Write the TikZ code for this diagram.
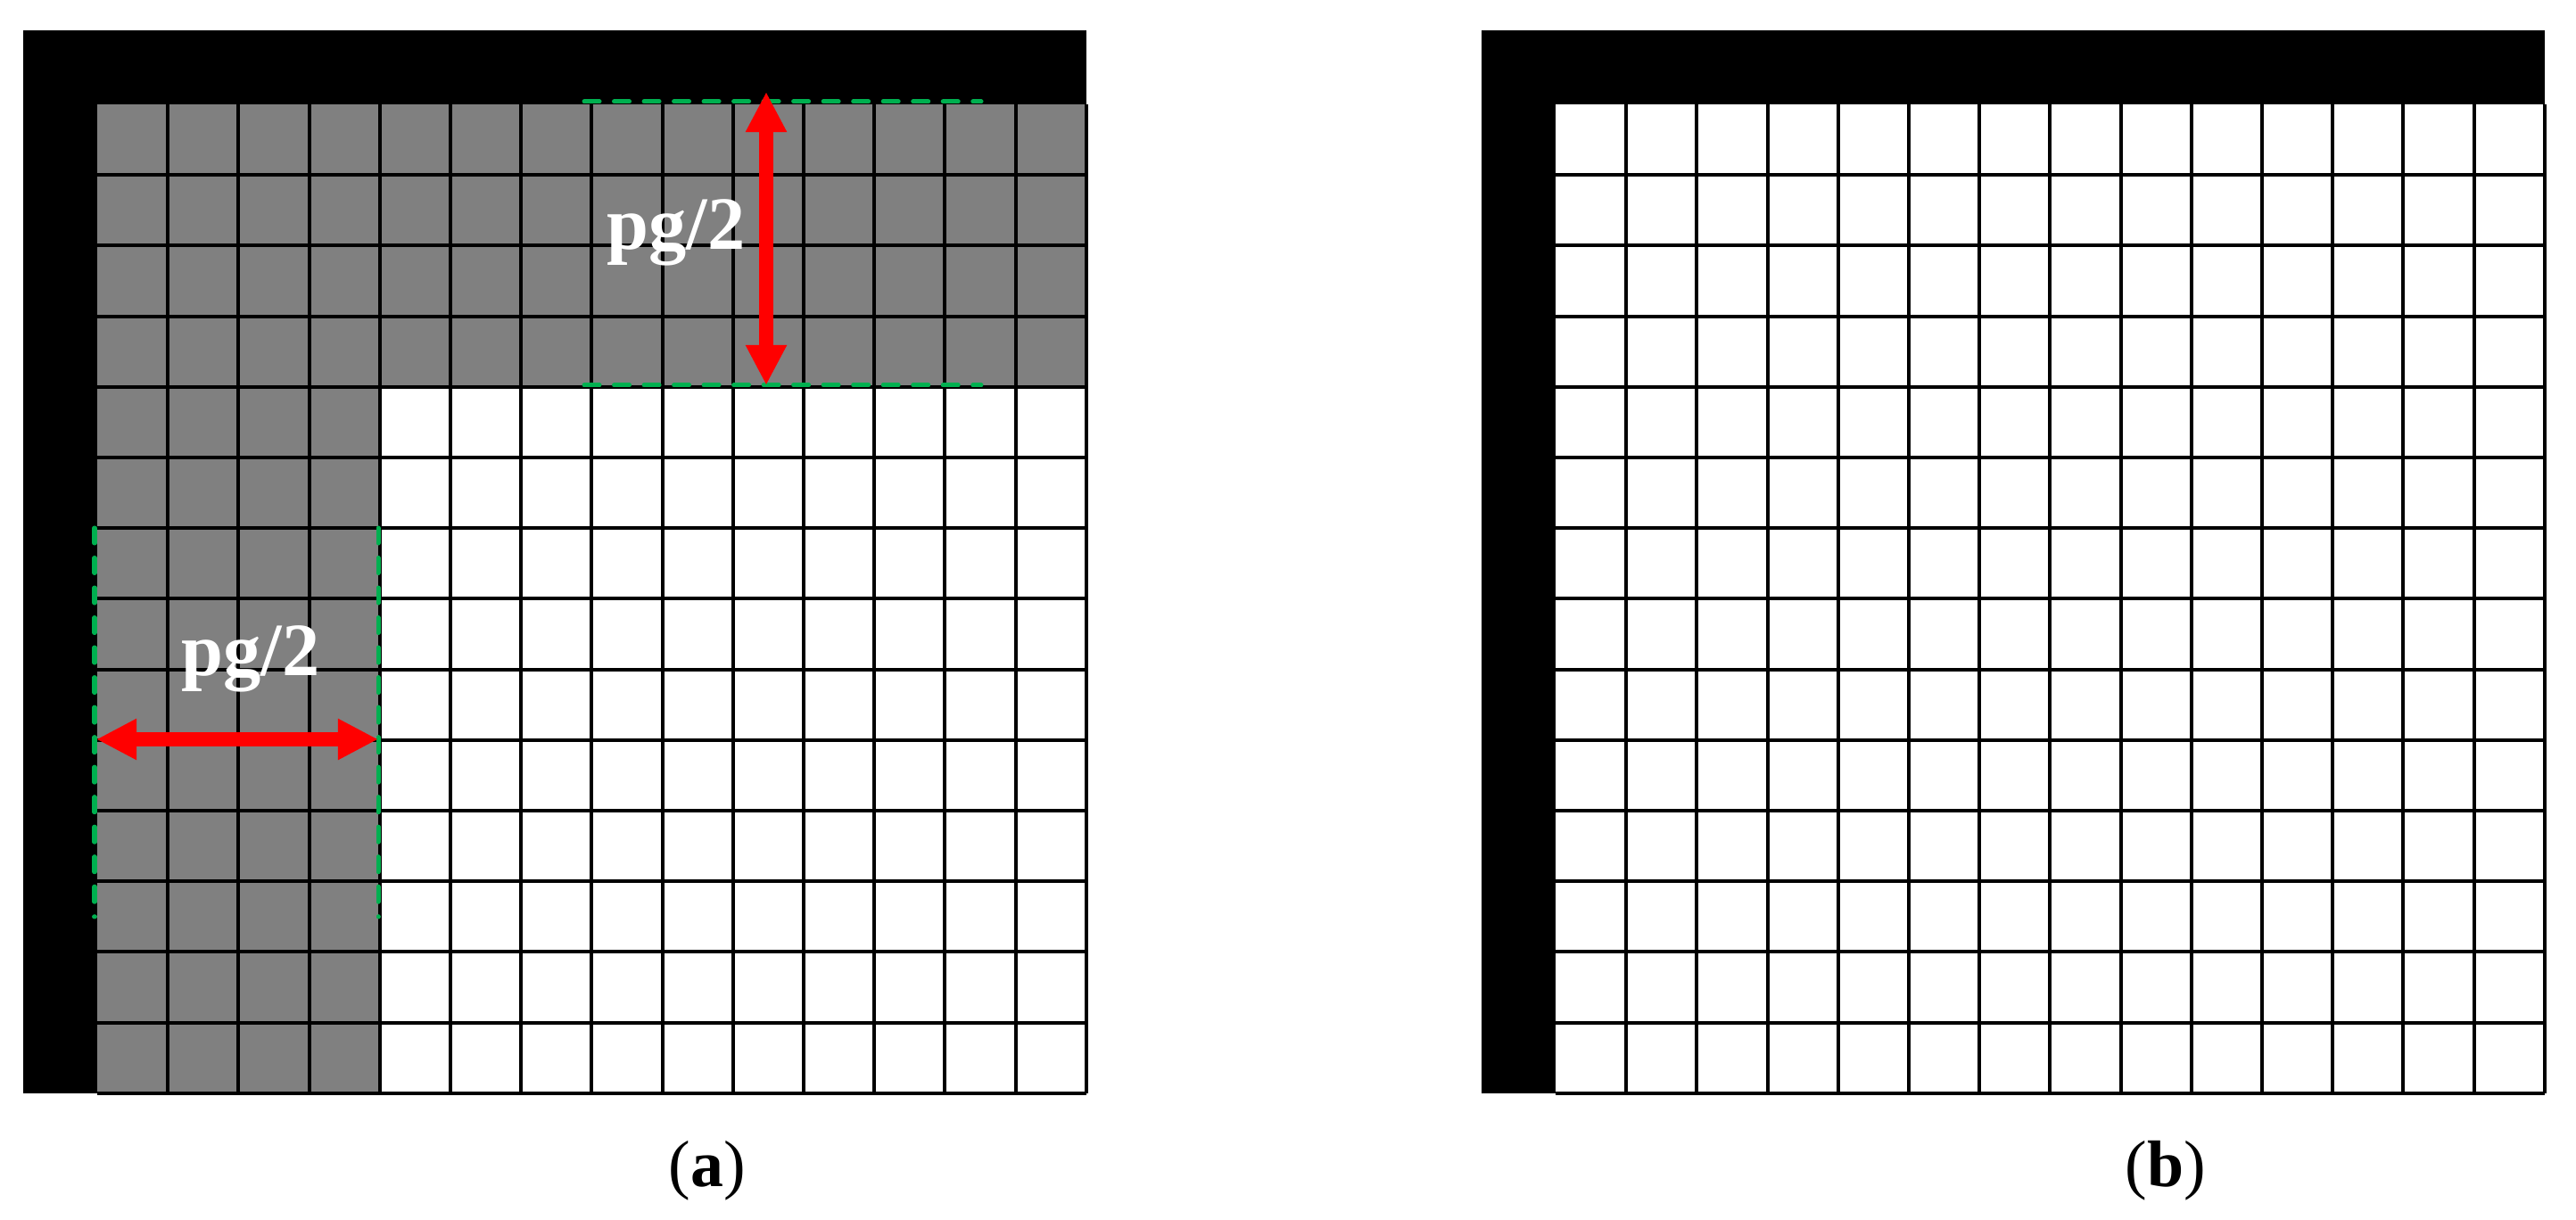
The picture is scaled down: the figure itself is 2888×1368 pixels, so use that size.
\documentclass[tikz,border=0pt]{standalone}
\usepackage{fontspec}
\setmainfont{Liberation Serif}
\usetikzlibrary{arrows.meta}
\definecolor{cellgray}{RGB}{128,128,128}
\definecolor{dashgreen}{RGB}{0,176,80}
\definecolor{arrowred}{RGB}{255,0,0}
\begin{document}
\begin{tikzpicture}[x=0.01cm,y=-0.01cm,
  gridline/.style={line width=0.04cm, black},
  borderfill/.style={fill=black},
  greenline/.style={draw=dashgreen, line width=0.05cm, line cap=round, dash pattern=on 0.17cm off 0.165cm},
  redarrow/.style={draw=arrowred, line width=0.16cm, arrows={Triangle[length=0.45cm,width=0.43cm]-Triangle[length=0.45cm,width=0.43cm]}},
  dimlabel/.style={text=white, font=\bfseries\fontsize{24pt}{28pt}\selectfont, anchor=base, inner sep=0pt},
  caplabel/.style={font=\fontsize{21pt}{25pt}\selectfont, anchor=base, inner sep=0pt}]
\useasboundingbox (0,0) rectangle (2888,1368);
\fill[white] (0,0) rectangle (2888,1368);
% ---------- panel (a) ----------
\fill[borderfill] (26,34) rectangle (1218,117);
\fill[borderfill] (26,34) rectangle (109,1226);
\fill[cellgray] (109,117) rectangle (1218,434);
\fill[cellgray] (109,117) rectangle (426,1226);
\foreach \i in {1,...,14} {
  \draw[gridline] ({109+79.2*\i},117) -- ({109+79.2*\i},1226);
  \draw[gridline] (109,{117+79.2*\i}) -- (1218,{117+79.2*\i});
}
% dashed guides
\draw[greenline] (655,114) -- (1100,114);
\draw[greenline] (655,432) -- (1100,432);
\draw[greenline] (106,592) -- (106,1028);
\draw[greenline] (424,592) -- (424,1028);
% arrows
\coordinate (vt) at (859,103);
\coordinate (vb) at (859,432);
\draw[redarrow] (vt) -- (vb);
\coordinate (hl) at (108,829);
\coordinate (hr) at (424,829);
\draw[redarrow] (hl) -- (hr);
\node[dimlabel] (lt) at (758,280) {pg/2};
\node[dimlabel] (ll) at (281,758) {pg/2};
% ---------- panel (b) ----------
\fill[borderfill] (1661,34) rectangle (2853,117);
\fill[borderfill] (1661,34) rectangle (1744,1226);
\foreach \i in {1,...,14} {
  \draw[gridline] ({1744+79.2*\i},117) -- ({1744+79.2*\i},1226);
  \draw[gridline] (1744,{117+79.2*\i}) -- (2853,{117+79.2*\i});
}
% captions
\node[caplabel] (ca) at (793,1330) {(\textbf{a})};
\node[caplabel] (cb) at (2428,1330) {(\textbf{b})};
\end{tikzpicture}
\end{document}
